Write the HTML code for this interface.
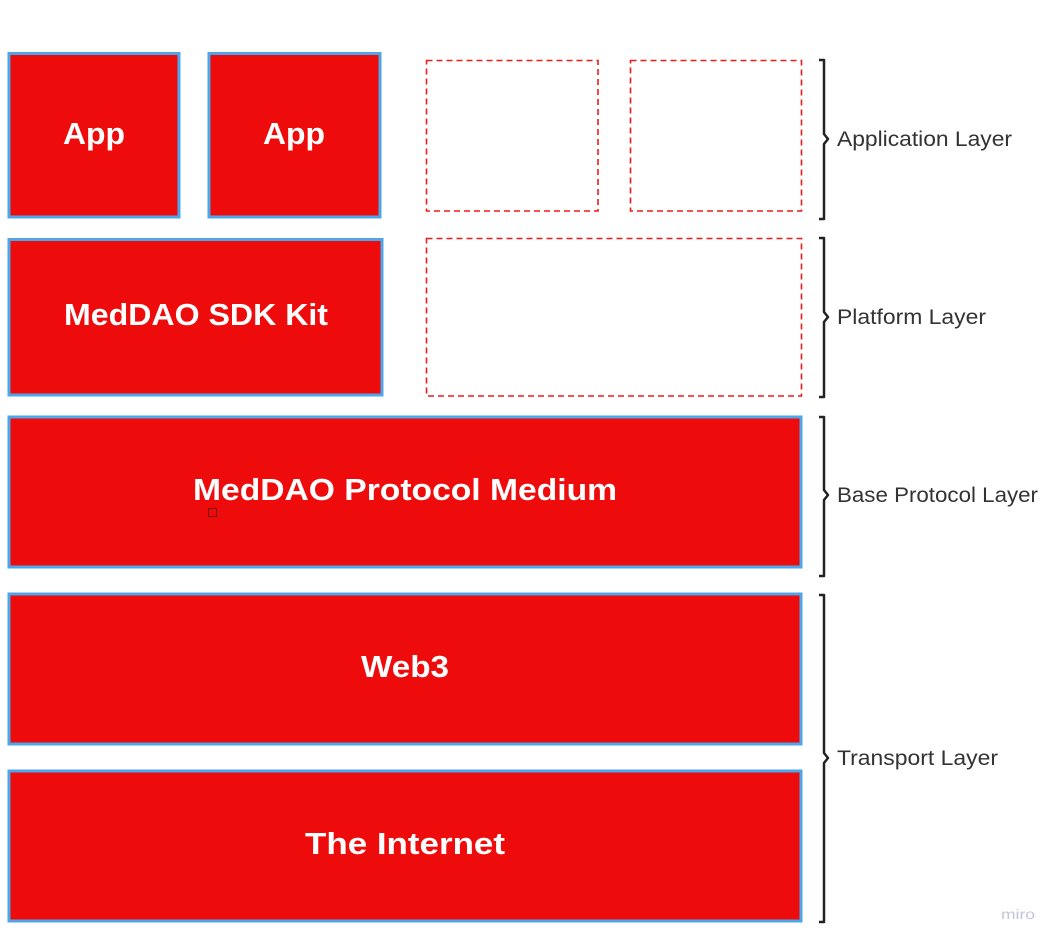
<!DOCTYPE html>
<html><head><meta charset="utf-8"><style>
html,body{margin:0;padding:0;background:#fff;}
svg{display:block;}
.b{fill:#ee0b0b;stroke:#4ea6ea;stroke-width:3;}
.d{fill:none;stroke:#ee1c1c;stroke-width:1.6;stroke-dasharray:6 4;}
.t{font-family:"Liberation Sans",sans-serif;font-weight:bold;fill:#fff;font-size:31px;}
.l{font-family:"Liberation Sans",sans-serif;fill:#333;font-size:21px;}
.br{fill:none;stroke:#222;stroke-width:2.5;stroke-linejoin:round;}
</style></head><body>
<svg width="1059" height="943" viewBox="0 0 1059 943" xmlns="http://www.w3.org/2000/svg">
<rect class="b" x="9" y="53.5" width="170" height="163.5"/>
<rect class="b" x="209" y="53.5" width="171" height="163.5"/>
<rect class="d" x="426.5" y="60.5" width="171.5" height="150.5"/>
<rect class="d" x="630.5" y="60.5" width="171" height="150.5"/>
<rect class="b" x="9" y="239.5" width="373" height="155.5"/>
<rect class="d" x="426.5" y="238.5" width="375" height="157.5"/>
<rect class="b" x="9" y="417" width="792" height="150"/>
<rect class="b" x="9" y="594" width="792" height="150"/>
<rect class="b" x="9" y="771" width="792" height="150"/>
<text class="t" x="63" y="144" textLength="62" lengthAdjust="spacingAndGlyphs">App</text>
<text class="t" x="263" y="144" textLength="62" lengthAdjust="spacingAndGlyphs">App</text>
<text class="t" x="64" y="325" textLength="264" lengthAdjust="spacingAndGlyphs">MedDAO SDK Kit</text>
<text class="t" x="193" y="500" textLength="424" lengthAdjust="spacingAndGlyphs">MedDAO Protocol Medium</text>
<rect x="208.5" y="508.5" width="8" height="8" fill="none" stroke="#7a1010" stroke-width="1"/>
<text class="t" x="361" y="677" textLength="88" lengthAdjust="spacingAndGlyphs">Web3</text>
<text class="t" x="305" y="854" textLength="200" lengthAdjust="spacingAndGlyphs">The Internet</text>
<path class="br" d="M819,60 H824 V134 L828,139 L824,144 V219 H819"/>
<path class="br" d="M819,238 H824 V312 L828,317 L824,322 V397 H819"/>
<path class="br" d="M819,417 H824 V490 L828,495 L824,500 V576 H819"/>
<path class="br" d="M819,595 H824 V753 L828,758 L824,763 V922 H819"/>
<text class="l" x="837" y="146" textLength="175" lengthAdjust="spacingAndGlyphs">Application Layer</text>
<text class="l" x="837" y="324" textLength="149" lengthAdjust="spacingAndGlyphs">Platform Layer</text>
<text class="l" x="837" y="502" textLength="201" lengthAdjust="spacingAndGlyphs">Base Protocol Layer</text>
<text class="l" x="837" y="765" textLength="161" lengthAdjust="spacingAndGlyphs">Transport Layer</text>
<text x="1001" y="919" font-family="Liberation Sans,sans-serif" font-size="14" fill="#c4c4d8" textLength="34" lengthAdjust="spacingAndGlyphs">miro</text>
</svg>
</body></html>
